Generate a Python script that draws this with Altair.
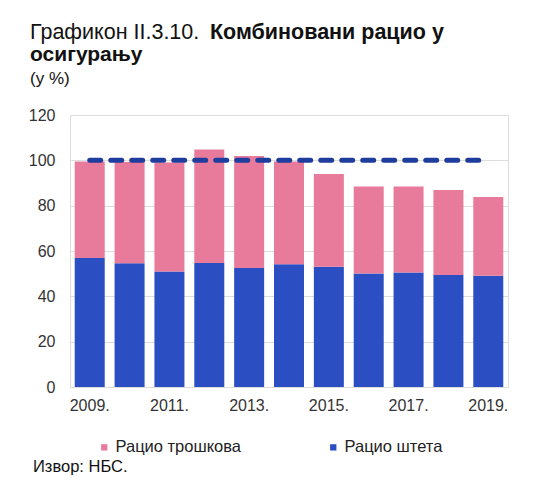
import altair as alt
import pandas as pd

years = ["2009.", "2010.", "2011.", "2012.", "2013.", "2014.", "2015.", "2016.", "2017.", "2018.", "2019."]
claims_ratio = [56.9, 54.6, 51.0, 54.7, 52.5, 54.1, 53.1, 50.1, 50.5, 49.4, 49.1]
expense_ratio = [42.6, 44.7, 48.0, 50.1, 49.4, 45.4, 40.9, 38.4, 38.0, 37.5, 34.7]
threshold = [100, 100]
threshold_years = [years[0], years[-1]]
tick_years = ["2009.", "2011.", "2013.", "2015.", "2017.", "2019."]

S_EXP = "Рацио трошкова"
S_CLM = "Рацио штета"
PINK = "#e87a9b"
BLUE = "#2b4fc2"
FONT = "Liberation Sans"

rows = []
for y, c, e in zip(years, claims_ratio, expense_ratio):
    rows.append({"year": y, "series": S_CLM, "value": c, "ord": 0})
    rows.append({"year": y, "series": S_EXP, "value": e, "ord": 1})
df = pd.DataFrame(rows)

bars = alt.Chart(df).mark_bar(size=30).encode(
    x=alt.X("year:N", sort=years, title=None,
            scale=alt.Scale(paddingInner=0.25, paddingOuter=0.12),
            axis=alt.Axis(values=tick_years, labelAngle=0, ticks=False, domain=False,
                          labelFontSize=16, labelColor="#333333", labelFont=FONT,
                          labelPadding=10)),
    y=alt.Y("value:Q", stack="zero", title=None,
            scale=alt.Scale(domain=[0, 120], nice=False),
            axis=alt.Axis(values=[0, 20, 40, 60, 80, 100, 120], ticks=False, domain=False,
                          labelFontSize=16, labelColor="#333333", labelFont=FONT,
                          labelPadding=15, gridColor="#dddddd")),
    color=alt.Color("series:N",
                    scale=alt.Scale(domain=[S_EXP, S_CLM], range=[PINK, BLUE]),
                    legend=alt.Legend(title=None, orient="none", direction="horizontal",
                                      legendX=26, legendY=324, symbolType="square",
                                      symbolSize=40, labelFontSize=16.5, labelFont=FONT,
                                      labelColor="#222222", columnPadding=83,
                                      labelOffset=3, symbolStrokeWidth=0)),
    order=alt.Order("ord:Q"),
)

line_df = pd.DataFrame({"year": threshold_years, "value": threshold})
dash = alt.Chart(line_df).mark_line(
    color="#1f3d9c", strokeWidth=5, strokeDash=[11, 10], strokeCap="round"
).encode(
    x=alt.X("year:N", sort=years, bandPosition=0.5),
    y=alt.Y("value:Q"),
)

t1 = alt.Chart(pd.DataFrame({"t": ["Графикон II.3.10."]})).mark_text(
    align="left", baseline="alphabetic", fontSize=21.5, font=FONT, color="#111111"
).encode(text="t:N", x=alt.value(-40), y=alt.value(-76))
t2 = alt.Chart(pd.DataFrame({"t": ["Комбиновани рацио у"]})).mark_text(
    align="left", baseline="alphabetic", fontSize=21.5, font=FONT, fontWeight="bold", color="#111111"
).encode(text="t:N", x=alt.value(140), y=alt.value(-76))
t3 = alt.Chart(pd.DataFrame({"t": ["осигурању"]})).mark_text(
    align="left", baseline="alphabetic", fontSize=21, font=FONT, fontWeight="bold", color="#111111"
).encode(text="t:N", x=alt.value(-40), y=alt.value(-54))
t4 = alt.Chart(pd.DataFrame({"t": ["(у %)"]})).mark_text(
    align="left", baseline="alphabetic", fontSize=17, font=FONT, color="#111111"
).encode(text="t:N", x=alt.value(-40), y=alt.value(-31))
src = alt.Chart(pd.DataFrame({"t": ["Извор: НБС."]})).mark_text(
    align="left", baseline="middle", fontSize=16.5, font=FONT, color="#111111"
).encode(text="t:N", x=alt.value(-37), y=alt.value(352))

chart = alt.layer(bars, dash, t1, t2, t3, t4, src).properties(
    width=438, height=272,
    autosize=alt.AutoSizeParams(type="none"),
    padding={"left": 62, "top": 107, "right": 26, "bottom": 104},
).configure_view(stroke="#dddddd").configure(background="white")

chart.save("out.html", embed_options={"renderer": "svg", "actions": False})
